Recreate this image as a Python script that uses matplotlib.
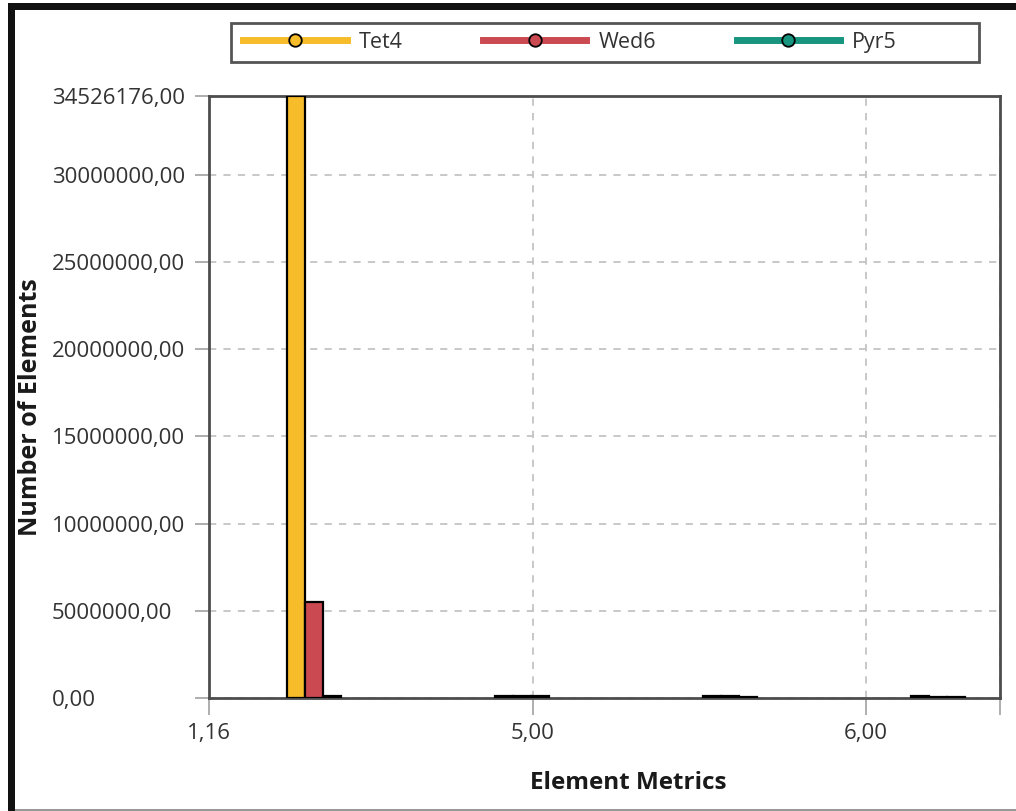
import numpy as np
import matplotlib
matplotlib.use("Agg")
import matplotlib.pyplot as plt
from matplotlib.lines import Line2D
from matplotlib.patches import Rectangle

plt.rcParams['font.family'] = ['Open Sans', 'DejaVu Sans']

# element counts per metric bin, one list per element shape
series_names = ["Tet4", "Wed6", "Pyr5"]
series_colors = ["#F6BC2A", "#CB4A51", "#17957F"]
tet4 = [34526176, 110000, 100000, 90000]
wed6 = [5480000, 100000, 90000, 80000]
pyr5 = [110000, 90000, 80000, 70000]

x_tick_labels = ["1,16", "5,00", "6,00", ""]
y_ticks = [0, 5000000, 10000000, 15000000, 20000000, 25000000, 30000000, 34526176]

W, H = 1016, 811
fig = plt.figure(figsize=(W / 100, H / 100), dpi=100)

# plot box in pixel units
left, right, top, bottom = 209, 1000, 96, 698
ax = fig.add_axes([left / W, 1 - bottom / H, (right - left) / W, (bottom - top) / H])

bins = np.arange(len(tet4))
bin_px = 208.0            # bin spacing on screen
first_bin_px = 314.0
bar_w = 18 / bin_px
x_min = (left - first_bin_px) / bin_px
x_max = (right - first_bin_px) / bin_px
tick_pos = [x_min, (533 - first_bin_px) / bin_px, (866 - first_bin_px) / bin_px, x_max]

for k, (vals, col) in enumerate(zip([tet4, wed6, pyr5], series_colors)):
    ax.bar(bins + (k - 1) * bar_w, vals, width=bar_w, color=col,
           edgecolor="black", linewidth=1.6, zorder=3)

ax.set_xlim(x_min, x_max)
ax.set_ylim(0, y_ticks[-1])
ax.set_xticks(tick_pos)
ax.set_xticklabels(x_tick_labels)
ax.set_yticks(y_ticks)
ax.set_yticklabels([f"{v:.2f}".replace(".", ",") for v in y_ticks])

ax.grid(True, color="#c4c4c4", linestyle=(0, (4, 4)), linewidth=1.3, zorder=0)
for s in ax.spines.values():
    s.set_color("#4d4d4d")
    s.set_linewidth(2)

ax.tick_params(axis="y", length=10, width=1.3, color="#a8a8a8", pad=103,
               labelsize=16, labelcolor="#333333")
ax.tick_params(axis="x", length=12, width=1.3, color="#a8a8a8", pad=6,
               labelsize=16, labelcolor="#333333")
for lbl in ax.get_yticklabels():
    lbl.set_horizontalalignment("left")

fig.text(31 / W, 1 - 407 / H, "Number of Elements", rotation=90, ha="center",
         va="center", fontsize=18, fontweight="bold", color="#1a1a1a")
fig.text(628 / W, 1 - 783 / H, "Element Metrics", ha="center", va="center",
         fontsize=17.5, fontweight="bold", color="#1a1a1a")

# legend box with line+marker handles
fig.add_artist(Rectangle((231 / W, 1 - 62 / H), (979 - 231) / W, (62 - 23) / H,
                         transform=fig.transFigure, fill=False,
                         edgecolor="#555555", linewidth=2))
handles = [Line2D([], [], color=c, lw=5, marker="o", ms=9, mfc=c, mec="black", mew=1.3)
           for c in series_colors]
fig.legend(handles, series_names, loc="center left",
           bbox_to_anchor=(224 / W, 1 - 42.5 / H), ncol=3, frameon=False,
           fontsize=15.5, handlelength=4.8, handletextpad=0.55, columnspacing=3.75,
           labelcolor="#333333")

# page frame around the chart
fig.add_artist(Rectangle((8 / W, 0), 7 / W, 1 - 3 / H, transform=fig.transFigure,
                         color="#111111", lw=0))
fig.add_artist(Rectangle((8 / W, 1 - 10 / H), 1 - 8 / W, 7 / H, transform=fig.transFigure,
                         color="#111111", lw=0))
fig.add_artist(Rectangle((15 / W, 1 - 811 / H), 1 - 15 / W, 2 / H, transform=fig.transFigure,
                         color="#999999", lw=0))

fig.savefig("out.png", dpi=100)
